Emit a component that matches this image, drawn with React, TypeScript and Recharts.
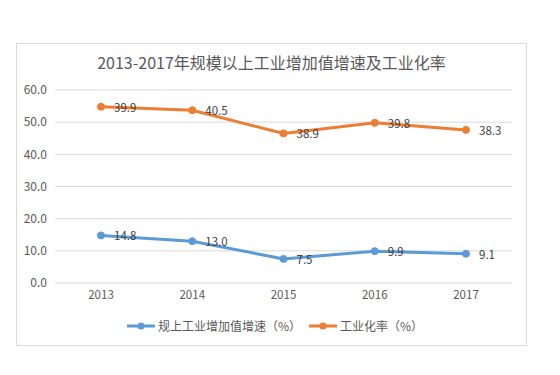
import { LineChart, Line, XAxis, YAxis, CartesianGrid } from 'recharts';

const years = ['2013', '2014', '2015', '2016', '2017'];
// plotted positions
const growth = [14.8, 13.0, 7.5, 9.9, 9.1];
const rate = [54.8, 53.7, 46.5, 49.8, 47.6];
// data labels as printed on the chart
const growthLabels = ['14.8', '13.0', '7.5', '9.9', '9.1'];
const rateLabels = ['39.9', '40.5', '38.9', '39.8', '38.3'];
const yTicks = [0, 10, 20, 30, 40, 50, 60];

const TITLE = '2013-2017年规模以上工业增加值增速及工业化率';
const GROWTH_NAME = '规上工业增加值增速（%）';
const RATE_NAME = '工业化率（%）';

const BLUE = '#5B9BD5';
const ORANGE = '#ED7D31';
const FONT = '"Noto Sans CJK SC", "Noto Sans", sans-serif';

const data = years.map((year, i) => ({ year, growth: growth[i], rate: rate[i] }));

function makeLabel(labels: string[]) {
  return (props: any) => {
    const x = props.x ?? props.viewBox?.x;
    const y = props.y ?? props.viewBox?.y;
    return (
      <text
        key={props.index}
        x={x + 13}
        y={y}
        dominantBaseline="central"
        fontSize={11.5}
        fill="#404040"
        fontFamily={FONT}
      >
        {labels[props.index]}
      </text>
    );
  };
}

function LegendItem({ color, text }: { color: string; text: string }) {
  return (
    <div style={{ display: 'flex', alignItems: 'center', marginRight: 8 }}>
      <svg width={28} height={8} style={{ marginRight: 3 }}>
        <line x1={0} y1={4} x2={28} y2={4} stroke={color} strokeWidth={3} />
        <circle cx={14} cy={4} r={3.5} fill={color} />
      </svg>
      <span>{text}</span>
    </div>
  );
}

export default function App() {
  return (
    <div style={{ position: 'absolute', left: 0, top: 0, width: 560, height: 375, background: '#fff', fontFamily: FONT }}>
      <div
        style={{
          position: 'absolute',
          left: 16,
          top: 43,
          width: 511,
          height: 303,
          border: '1px solid #D9D9D9',
          boxSizing: 'border-box',
        }}
      />
      <div
        style={{
          position: 'absolute',
          left: 16,
          width: 511,
          top: 51,
          textAlign: 'center',
          fontSize: 16,
          color: '#595959',
          lineHeight: '22px',
        }}
      >
        {TITLE}
      </div>
      <div style={{ position: 'absolute', left: 0, top: 0 }}>
        <LineChart width={560} height={375} data={data} margin={{ top: 90, right: 48, left: 15, bottom: 62 }}>
          <CartesianGrid stroke="#D9D9D9" vertical={false} />
          <XAxis
            dataKey="year"
            axisLine={false}
            tickLine={false}
            height={30}
            padding={{ left: 46, right: 46 }}
            tick={{ fontSize: 11.5, fill: '#595959', fontFamily: FONT }}
          />
          <YAxis
            domain={[0, 60]}
            ticks={yTicks}
            width={40}
            axisLine={false}
            tickLine={false}
            tickFormatter={(v) => v.toFixed(1)}
            tick={{ fontSize: 12, fill: '#595959', fontFamily: FONT }}
          />
          <Line
            dataKey="growth"
            stroke={BLUE}
            strokeWidth={3}
            dot={{ r: 3.5, fill: BLUE, stroke: BLUE, strokeWidth: 1 }}
            label={makeLabel(growthLabels)}
            isAnimationActive={false}
          />
          <Line
            dataKey="rate"
            stroke={ORANGE}
            strokeWidth={3}
            dot={{ r: 3.5, fill: ORANGE, stroke: ORANGE, strokeWidth: 1 }}
            label={makeLabel(rateLabels)}
            isAnimationActive={false}
          />
        </LineChart>
      </div>
      <div
        style={{
          position: 'absolute',
          left: 127,
          top: 317,
          display: 'flex',
          alignItems: 'center',
          fontSize: 12,
          color: '#595959',
          lineHeight: '18px',
        }}
      >
        <LegendItem color={BLUE} text={GROWTH_NAME} />
        <LegendItem color={ORANGE} text={RATE_NAME} />
      </div>
    </div>
  );
}
